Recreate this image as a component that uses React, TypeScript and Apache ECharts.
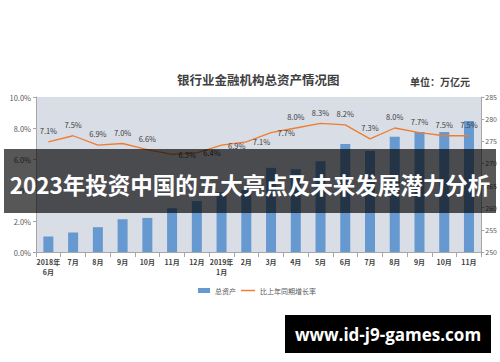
import React, { useEffect, useRef } from "react";
import * as echarts from "echarts";

const categories = [
  "2018年\n6月", "7月", "8月", "9月", "10月", "11月", "12月", "2019年\n1月", "2月",
  "3月", "4月", "5月", "6月", "7月", "8月", "9月", "10月", "11月",
];
const totalAssets = [
  253.5, 254.4, 255.6, 257.4, 257.7, 259.9, 261.5, 263.5, 264.0,
  269.0, 268.7, 270.5, 274.4, 272.8, 276.0, 277.1, 277.1, 279.6,
];
const growthRate = [
  7.1, 7.5, 6.9, 7.0, 6.6, 6.3, 6.4, 6.9, 7.1,
  7.7, 8.0, 8.3, 8.2, 7.3, 8.0, 7.7, 7.5, 7.5,
];
const rightLabelIdx = [5, 6, 7, 8, 9];

const FONT = "'Noto Sans CJK SC', 'Noto Sans', sans-serif";

export default function App() {
  const ref = useRef<HTMLDivElement>(null);
  useEffect(() => {
    if (!ref.current) return;
    const chart = echarts.init(ref.current, null, { renderer: "svg" });
    chart.setOption({
      animation: false,
      backgroundColor: "#ffffff",
      textStyle: { fontFamily: FONT },
      title: {
        text: "银行业金融机构总资产情况图",
        left: 172,
        top: 68,
        textStyle: { fontSize: 12.5, fontWeight: "bold", color: "#404040", fontFamily: FONT },
      },
      legend: [
        {
          left: 193,
          top: 282,
          itemWidth: 12,
          itemHeight: 5,
          textStyle: { fontSize: 7, color: "#595959", fontFamily: FONT },
          data: [{ name: "总资产", icon: "rect" }],
        },
        {
          left: 236,
          top: 282,
          itemWidth: 14,
          itemHeight: 1.5,
          textStyle: { fontSize: 7, color: "#595959", fontFamily: FONT },
          data: [
            { name: "比上年同期增长率", icon: "rect", itemStyle: { color: "#ED7D31" } },
          ],
        },
      ],
      grid: {
        left: 36,
        right: 18,
        top: 97,
        bottom: 110,
        show: true,
        backgroundColor: "#D8DDE6",
        borderWidth: 0,
      },
      xAxis: {
        type: "category",
        data: categories,
        axisLine: { lineStyle: { color: "#A6A6A6" } },
        axisTick: { show: true, alignWithLabel: false, lineStyle: { color: "#A6A6A6" } },
        axisLabel: {
          fontSize: 7,
          color: "#404040",
          fontWeight: "bold",
          lineHeight: 10,
          margin: 5,
          interval: 0,
          fontFamily: FONT,
        },
      },
      yAxis: [
        {
          type: "value",
          min: 0,
          max: 10,
          interval: 2,
          axisLine: { show: true, lineStyle: { color: "#A6A6A6" } },
          axisTick: { show: true, length: 3, lineStyle: { color: "#A6A6A6" } },
          splitLine: { show: false },
          axisLabel: {
            fontSize: 7.5,
            color: "#595959",
            margin: 5,
            formatter: (v: number) => v.toFixed(1) + "%",
          },
        },
        {
          type: "value",
          min: 250,
          max: 285,
          interval: 5,
          position: "right",
          axisLine: { show: true, lineStyle: { color: "#A6A6A6" } },
          axisTick: { show: true, length: 3, lineStyle: { color: "#A6A6A6" } },
          splitLine: { show: false },
          axisLabel: { fontSize: 7, color: "#595959", margin: 4 },
        },
      ],
      series: [
        {
          name: "总资产",
          type: "bar",
          yAxisIndex: 1,
          barWidth: 10,
          itemStyle: { color: "#6699D0" },
          data: totalAssets,
        },
        {
          name: "比上年同期增长率",
          type: "line",
          yAxisIndex: 0,
          symbol: "circle",
          symbolSize: 1,
          showSymbol: true,
          lineStyle: { color: "#ED7D31", width: 1.3 },
          itemStyle: { color: "rgba(237,125,49,0)", borderWidth: 0 },
          data: growthRate.map((v, i) => ({
            value: v,
            label: rightLabelIdx.includes(i)
              ? { show: true, position: "right", distance: 6 }
              : { show: true, position: "top", distance: 7 },
          })),
          label: {
            show: true,
            fontSize: 7.5,
            color: "#404040",
            formatter: (p: any) => Number(p.value).toFixed(1) + "%",
          },
          labelLayout: { hideOverlap: false },
        },
      ],
      graphic: [
        {
          type: "text",
          left: 410,
          top: 76,
          style: {
            text: "单位：万亿元",
            fontSize: 10,
            fontWeight: "bold",
            fill: "#404040",
            fontFamily: FONT,
          },
        },
        {
          type: "rect",
          shape: { x: 4, y: 149, width: 492, height: 64 },
          style: { fill: "rgba(0,0,0,0.66)" },
          z: 100,
        },
        {
          type: "text",
          x: 250,
          y: 184,
          style: {
            text: "2023年投资中国的五大亮点及未来发展潜力分析",
            fontSize: 22.5,
            fontWeight: "bold",
            fill: "#ffffff",
            align: "center",
            verticalAlign: "middle",
            fontFamily: FONT,
          },
          z: 101,
        },
        {
          type: "rect",
          shape: { x: 285, y: 315, width: 206, height: 38 },
          style: { fill: "#000000" },
          z: 100,
        },
        {
          type: "text",
          x: 388,
          y: 334,
          style: {
            text: "www.id-j9-games.com",
            fontSize: 17,
            fontWeight: "bold",
            fill: "#ffffff",
            align: "center",
            verticalAlign: "middle",
            fontFamily: "'Open Sans', sans-serif",
          },
          z: 101,
        },
      ],
    });
    return () => chart.dispose();
  }, []);
  return (
    <div
      ref={ref}
      style={{ position: "fixed", left: 0, top: 0, width: 500, height: 362 }}
    />
  );
}
